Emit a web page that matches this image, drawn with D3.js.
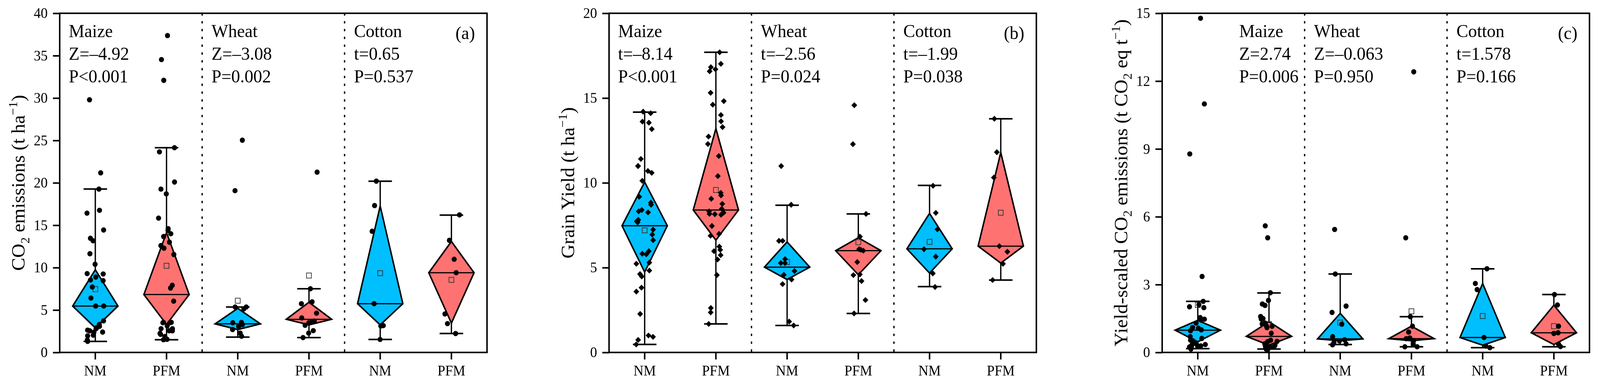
<!DOCTYPE html>
<html>
<head>
<meta charset="utf-8">
<script src="https://cdn.jsdelivr.net/npm/d3@7"></script>
<style>
    html, body { margin: 0; padding: 0; overflow: hidden; background: #fff; }
    #chart { position: fixed; left: 0; top: 0; width: 100%; height: 100%; display: block; }
    svg text { font-family: "Liberation Serif", "Times New Roman", serif; fill: #000; }
</style>
</head>
<body>
<svg id="chart"></svg>
<script>
// groups along every x axis
const groups = ["Maize-NM", "Maize-PFM", "Wheat-NM", "Wheat-PFM", "Cotton-NM", "Cotton-PFM"];
const crops = ["Maize", "Wheat", "Cotton"];

// ---- panel (a) CO2 emissions ----
const aQ1 = [2.9, 3.3, 2.7, 3.25, 3.25, 3.46];
const aMedian = [5.47, 6.83, 3.37, 3.91, 5.75, 9.4];
const aQ3 = [9.75, 14.14, 5.2, 5.92, 17.27, 13.09];
const aMean = [7.47, 10.22, 6.1, 9.07, 9.35, 8.56];
const aLow = [1.3, 1.5, 1.81, 1.75, 1.53, 2.23];
const aHigh = [19.27, 24.15, 5.36, 7.51, 20.2, 16.2];
const aMaizeNM = [29.8, 21.18, 19.26, 16.76, 16.43, 14.44, 13.46, 13.17, 11.64, 10.4, 9.3, 9.25, 8.89, 8.55, 8.47, 7.72, 6.42, 5.47, 5.47, 3.72, 3.3, 3.08, 2.9, 2.8, 2.63, 2.55, 2.38, 2.4, 1.96, 2.04, 1.46, 1.3];
const aMaizePFM = [37.37, 34.54, 32.09, 24.15, 23.65, 20.1, 19.26, 18.7, 15.84, 14.4, 14.6, 14.0, 13.67, 13.0, 12.6, 12.3, 11.55, 7.92, 7.6, 6.05, 3.5, 3.55, 3.55, 3.5, 3.13, 2.8, 2.8, 2.55, 2.55, 2.25, 2.13, 1.88, 1.55, 1.5];
const aWheatNM = [25.03, 19.08, 5.36, 5.36, 5.13, 3.54, 3.5, 3.29, 3.09, 2.7, 2.28, 1.91];
const aWheatPFM = [21.26, 7.51, 5.97, 5.75, 4.63, 4.07, 3.7, 3.66, 3.5, 3.2, 2.57, 2.28, 1.75];
const aCottonNM = [20.2, 17.32, 14.29, 5.75, 3.12, 3.17, 1.53];
const aCottonPFM = [16.22, 13.22, 10.99, 9.4, 4.54, 3.4, 2.23];
const aTests = [["Maize", "Z=–4.92", "P<0.001"], ["Wheat", "Z=–3.08", "P=0.002"], ["Cotton", "t=0.65", "P=0.537"]];
const aTicks = [0, 5, 10, 15, 20, 25, 30, 35, 40];

// ---- panel (b) grain yield ----
const bQ1 = [4.74, 6.62, 4.3, 4.58, 4.68, 5.27];
const bMedian = [7.47, 8.4, 5.03, 6.0, 6.11, 6.27];
const bQ3 = [10.05, 13.2, 6.52, 6.76, 8.2, 11.79];
const bMean = [7.2, 9.58, 5.33, 6.5, 6.52, 8.24];
const bLow = [0.47, 1.68, 1.59, 2.3, 3.88, 4.27];
const bHigh = [14.17, 17.7, 8.68, 8.17, 9.85, 13.78];
const bMaizeNM = [14.2, 14.11, 13.61, 13.55, 13.17, 11.41, 10.99, 10.99, 10.59, 10.7, 10.12, 9.18, 8.83, 8.71, 8.4, 8.26, 8.32, 7.82, 7.73, 7.67, 7.24, 6.95, 6.62, 5.97, 5.82, 5.79, 5.3, 5.23, 4.83, 4.48, 4.62, 3.82, 3.59, 2.27, 1.0, 0.92, 0.74, 0.47];
const bMaizePFM = [17.7, 17.02, 16.82, 16.58, 16.7, 15.31, 14.82, 14.61, 14.0, 13.63, 13.29, 12.73, 12.29, 11.58, 10.4, 9.41, 9.26, 9.06, 8.76, 8.47, 8.32, 8.17, 8.24, 8.15, 8.12, 7.46, 6.99, 6.88, 6.24, 6.05, 5.97, 5.74, 5.48, 4.56, 2.62, 2.36, 1.68];
const bWheatNM = [10.99, 8.71, 6.58, 6.58, 5.5, 5.27, 5.27, 4.8, 4.58, 4.3, 4.03, 1.82, 1.59];
const bWheatPFM = [14.58, 12.28, 8.17, 6.83, 6.05, 6.0, 6.09, 5.33, 4.6, 4.56, 4.21, 3.09, 2.3];
const bCottonNM = [9.83, 8.23, 7.26, 6.09, 5.65, 4.66, 3.86];
const bCottonPFM = [13.78, 11.81, 10.31, 6.27, 5.94, 5.23, 4.27];
const bTests = [["Maize", "t=–8.14", "P<0.001"], ["Wheat", "t=–2.56", "P=0.024"], ["Cotton", "t=–1.99", "P=0.038"]];
const bTicks = [0, 5, 10, 15, 20];

// ---- panel (c) yield-scaled CO2 emissions ----
const cQ1 = [0.47, 0.32, 0.52, 0.52, 0.32, 0.35];
const cMedian = [0.985, 0.71, 0.6, 0.61, 0.66, 0.87];
const cQ3 = [1.42, 1.36, 1.73, 1.16, 3.05, 2.09];
const cMean = [2.1, 1.25, 1.32, 1.82, 1.61, 1.16];
const cLow = [0.17, 0.15, 0.35, 0.25, 0.21, 0.25];
const cHigh = [2.26, 2.63, 3.47, 1.58, 3.7, 2.56];
const cMaizeNM = [14.78, 10.99, 8.78, 3.36, 2.26, 2.11, 2.02, 1.98, 1.54, 1.47, 1.43, 1.3, 1.1, 1.07, 1.0, 0.96, 0.7, 0.62, 0.54, 0.52, 0.41, 0.32, 0.38, 0.35, 0.29, 0.24, 0.22, 0.15, 0.27];
const cMaizePFM = [5.6, 5.07, 2.64, 2.3, 2.08, 2.14, 1.59, 1.5, 1.48, 1.3, 1.26, 1.1, 1.16, 1.16, 0.85, 0.54, 0.49, 0.48, 0.38, 0.32, 0.2, 0.15, 0.12, 0.26, 0.24, 0.3];
const cWheatNM = [5.44, 3.47, 2.05, 1.77, 1.25, 0.7, 0.56, 0.51, 0.44, 0.38, 0.34];
const cWheatPFM = [12.41, 5.07, 1.58, 1.16, 0.9, 0.64, 0.61, 0.52, 0.38, 0.25, 0.25];
const cCottonNM = [3.7, 3.05, 2.78, 0.66, 0.28, 0.21];
const cCottonPFM = [2.56, 2.1, 1.16, 0.87, 0.84, 0.36, 0.26];
const cTests = [["Maize", "Z=2.74", "P=0.006"], ["Wheat", "Z=–0.063", "P=0.950"], ["Cotton", "t=1.578", "P=0.166"]];
const cTicks = [0, 3, 6, 9, 12, 15];

// layout (in the reference's own pixel space)
const W = 4261, H = 993;
const plotTop = 34, plotW = 1138, plotH = 868;
const blue = "#00bfff", red = "#ff7272";

// the real window can be narrower than 4261, so stretch the drawing to fill it exactly
const svg = d3.select("#chart")
    .attr("viewBox", `0 0 ${W} ${H}`)
    .attr("preserveAspectRatio", "none");

const panels = [
    {
        left: 159, tag: "(a)", domain: [0, 40], ticks: aTicks, marker: "circle",
        q1: aQ1, median: aMedian, q3: aQ3, mean: aMean, low: aLow, high: aHigh,
        points: [aMaizeNM, aMaizePFM, aWheatNM, aWheatPFM, aCottonNM, aCottonPFM],
        tests: aTests, firstTextOffset: 24,
        label: [["CO", 0], ["2", 1], [" emissions (t ha", 0], ["−1", 2], [")", 0]]
    },
    {
        left: 1622, tag: "(b)", domain: [0, 20], ticks: bTicks, marker: "diamond",
        q1: bQ1, median: bMedian, q3: bQ3, mean: bMean, low: bLow, high: bHigh,
        points: [bMaizeNM, bMaizePFM, bWheatNM, bWheatPFM, bCottonNM, bCottonPFM],
        tests: bTests, firstTextOffset: 24,
        label: [["Grain Yield (t ha", 0], ["−1", 2], [")", 0]]
    },
    {
        left: 3095, tag: "(c)", domain: [0, 15], ticks: cTicks, marker: "circle",
        q1: cQ1, median: cMedian, q3: cQ3, mean: cMean, low: cLow, high: cHigh,
        points: [cMaizeNM, cMaizePFM, cWheatNM, cWheatPFM, cCottonNM, cCottonPFM],
        tests: cTests, firstTextOffset: 205,
        label: [["Yield-scaled CO", 0], ["2", 1], [" emissions (t CO", 0], ["2", 1], [" eq t", 0], ["−1", 2], [")", 0]]
    }
];

panels.forEach((p, pi) => drawPanel(p, pi));

function drawPanel(p, pi) {
    const g = svg.append("g").attr("transform", `translate(${p.left},${plotTop})`);

    const x = d3.scaleBand().domain(groups).range([0, plotW]);
    const y = d3.scaleLinear().domain(p.domain).range([plotH, 0]);
    const bw = x.bandwidth();
    const cx = d => x(d) + bw / 2;
    const hw = bw * 0.318;   // diamond half width
    const capW = bw * 0.165; // whisker cap half width
    const fill = d => d.endsWith("NM") ? blue : red;

    // dotted crop separators
    g.selectAll(".sep")
        .data(["Wheat-NM", "Cotton-NM"])
        .join("line")
        .attr("class", "sep")
        .attr("x1", d => x(d)).attr("x2", d => x(d))
        .attr("y1", 0).attr("y2", plotH)
        .attr("stroke", "#000")
        .attr("stroke-width", 3.5)
        .attr("stroke-dasharray", "6 14");

    const boxes = groups.map((d, i) => ({
        key: d, q1: p.q1[i], median: p.median[i], q3: p.q3[i],
        mean: p.mean[i], low: p.low[i], high: p.high[i]
    }));

    // whiskers
    g.selectAll(".whisker")
        .data(boxes)
        .join("line")
        .attr("class", "whisker")
        .attr("x1", d => cx(d.key)).attr("x2", d => cx(d.key))
        .attr("y1", d => y(d.low)).attr("y2", d => y(d.high))
        .attr("stroke", "#000").attr("stroke-width", 3.5);

    ["low", "high"].forEach(k => {
        g.selectAll(".cap-" + k)
            .data(boxes)
            .join("line")
            .attr("class", "cap-" + k)
            .attr("x1", d => cx(d.key) - capW).attr("x2", d => cx(d.key) + capW)
            .attr("y1", d => y(d[k])).attr("y2", d => y(d[k]))
            .attr("stroke", "#000").attr("stroke-width", 4);
    });

    // diamond boxes: Q1 bottom vertex, Q3 top vertex, widest at median
    g.selectAll(".box")
        .data(boxes)
        .join("polygon")
        .attr("class", "box")
        .attr("points", d => {
            const c = cx(d.key);
            return [[c, y(d.q3)], [c + hw, y(d.median)], [c, y(d.q1)], [c - hw, y(d.median)]]
                .map(v => v.join(",")).join(" ");
        })
        .attr("fill", d => fill(d.key))
        .attr("stroke", "#000")
        .attr("stroke-width", 4)
        .attr("stroke-linejoin", "miter");

    g.selectAll(".median")
        .data(boxes)
        .join("line")
        .attr("class", "median")
        .attr("x1", d => cx(d.key) - hw).attr("x2", d => cx(d.key) + hw)
        .attr("y1", d => y(d.median)).attr("y2", d => y(d.median))
        .attr("stroke", "#000").attr("stroke-width", 3);

    // mean squares
    g.selectAll(".mean")
        .data(boxes)
        .join("rect")
        .attr("class", "mean")
        .attr("x", d => cx(d.key) - 6.5)
        .attr("y", d => y(d.mean) - 6.5)
        .attr("width", 13).attr("height", 13)
        .attr("fill", "none")
        .attr("stroke", "#333")
        .attr("stroke-width", 1.8);

    // jittered raw observations (seeded jitter, same every run)
    const rng = d3.randomLcg(0.137 + pi * 0.21);
    const pts = [];
    groups.forEach((k, i) => {
        p.points[i].forEach(v => {
            pts.push({ key: k, value: v, dx: (rng() * 2 - 1) * bw * 0.12 });
        });
    });

    if (p.marker === "circle") {
        g.selectAll(".pt")
            .data(pts)
            .join("circle")
            .attr("class", "pt")
            .attr("cx", d => cx(d.key) + d.dx)
            .attr("cy", d => y(d.value))
            .attr("r", 6.8)
            .attr("fill", "#000");
    } else {
        const sym = d3.symbol().type(d3.symbolSquare).size(118);
        g.selectAll(".pt")
            .data(pts)
            .join("path")
            .attr("class", "pt")
            .attr("d", sym)
            .attr("transform", d => `translate(${cx(d.key) + d.dx},${y(d.value)}) rotate(45)`)
            .attr("fill", "#000");
    }

    // frame
    g.append("rect")
        .attr("width", plotW).attr("height", plotH)
        .attr("fill", "none")
        .attr("stroke", "#000")
        .attr("stroke-width", 4);

    // axes
    const yAxisG = g.append("g")
        .call(d3.axisLeft(y).tickValues(p.ticks).tickSize(18).tickPadding(14))
        .call(a => a.select(".domain").remove());
    yAxisG.selectAll("line").attr("stroke-width", 4);
    yAxisG.selectAll("text").style("font-size", "37px");

    const xAxisG = g.append("g")
        .attr("transform", `translate(0,${plotH})`)
        .call(d3.axisBottom(x).tickFormat(d => d.split("-")[1]).tickSize(18).tickPadding(15))
        .call(a => a.select(".domain").remove());
    xAxisG.selectAll("line").attr("stroke-width", 4);
    xAxisG.selectAll("text").style("font-size", "37px");

    // y title with sub/superscripts
    const title = g.append("text")
        .attr("transform", `translate(${-93},${plotH / 2}) rotate(-90)`)
        .attr("text-anchor", "middle")
        .style("font-size", "50px");
    let shift = 0;
    p.label.forEach(([t, kind]) => {
        const target = kind === 1 ? 12 : kind === 2 ? -20 : 0;
        title.append("tspan")
            .attr("dy", target - shift)
            .style("font-size", kind ? "33px" : "50px")
            .text(t);
        shift = target;
    });

    // test statistics per crop
    crops.forEach((crop, ci) => {
        const x0 = ci === 0 ? p.firstTextOffset : x(crop + "-NM") + 25;
        g.selectAll(".test-" + ci)
            .data(p.tests[ci])
            .join("text")
            .attr("class", "test-" + ci)
            .attr("x", x0)
            .attr("y", (d, li) => 61 + li * 58)
            .style("font-size", "47px")
            .text(d => d);
    });

    // panel tag
    g.append("text")
        .attr("x", plotW - 32)
        .attr("y", 66)
        .attr("text-anchor", "end")
        .style("font-size", "47px")
        .text(p.tag);
}
</script>
</body>
</html>
